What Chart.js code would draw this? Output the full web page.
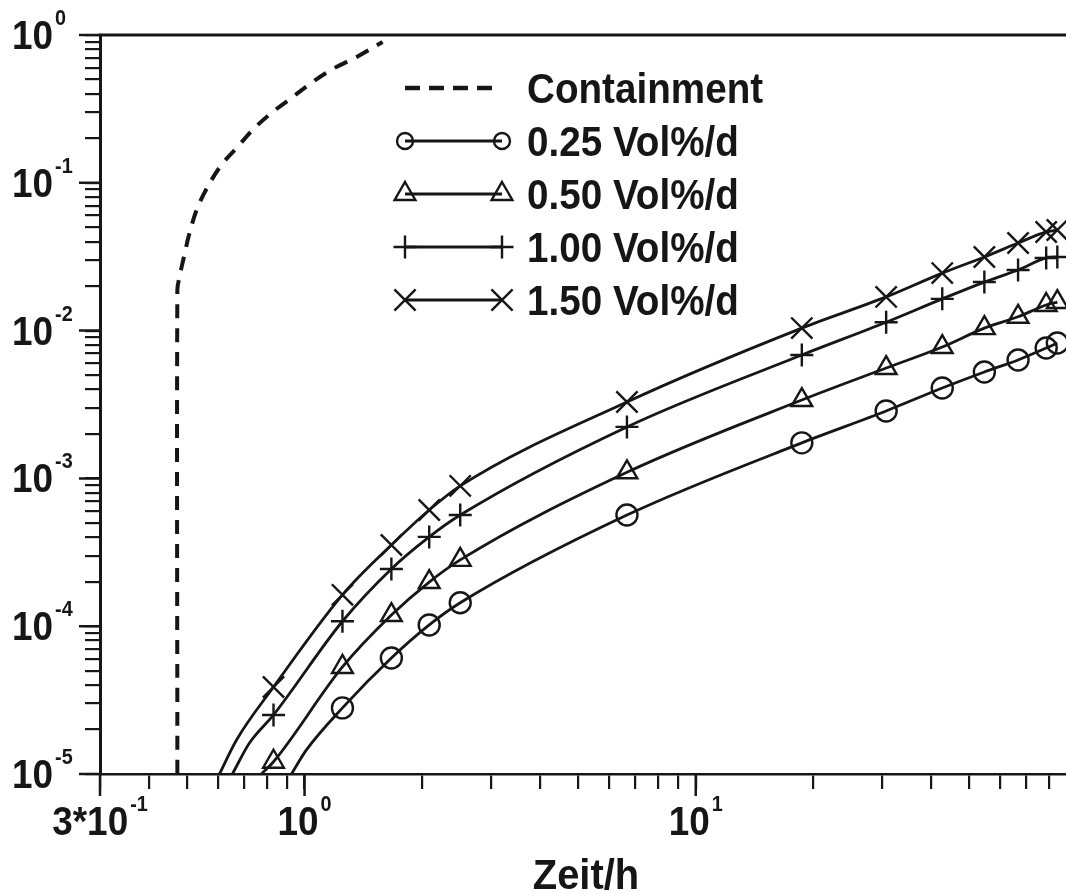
<!DOCTYPE html>
<html>
<head>
<meta charset="utf-8">
<script src="https://cdn.jsdelivr.net/npm/chart.js@4/dist/chart.umd.min.js"></script>
<style>
  html, body { margin: 0; padding: 0; background: #fff; overflow: hidden; }
  canvas { display: block; }
</style>
</head>
<body>
<canvas id="plot" width="1066" height="893"></canvas>
<script>
// time points (h) where the curves carry markers
const times = [0.833, 1.25, 1.667, 2.083, 2.5, 6.67, 18.67, 30.67, 42.67, 54.67, 66.67, 78.67, 84];

const vol025 = [null, 2.80e-5, 6.09e-5, 1.02e-4, 1.44e-4, 5.65e-4, 1.74e-3, 2.86e-3, 4.09e-3, 5.25e-3, 6.33e-3, 7.62e-3, 8.24e-3];
const vol050 = [1.21e-5, 5.30e-5, 1.19e-4, 1.99e-4, 2.81e-4, 1.10e-3, 3.39e-3, 5.58e-3, 7.74e-3, 1.04e-2, 1.24e-2, 1.49e-2, 1.56e-2];
const vol100 = [2.51e-5, 1.08e-4, 2.44e-4, 4.02e-4, 5.65e-4, 2.23e-3, 6.84e-3, 1.14e-2, 1.64e-2, 2.13e-2, 2.57e-2, 3.10e-2, 3.15e-2];
const vol150 = [3.88e-5, 1.63e-4, 3.54e-4, 6.11e-4, 8.90e-4, 3.29e-3, 1.04e-2, 1.69e-2, 2.45e-2, 3.15e-2, 3.91e-2, 4.65e-2, 4.79e-2];

// unmarked start of each curve, where it leaves the bottom axis
const lead025 = { t: [0.926, 1.01], v: [1e-5, 1.45e-5] };
const lead050 = { t: [0.776], v: [1e-5] };
const lead100 = { t: [0.654, 0.723], v: [1e-5, 1.62e-5] };
const lead150 = { t: [0.606, 0.670], v: [1e-5, 1.70e-5] };

// containment curve
const contTimes = [0.473, 0.473, 0.479, 0.493, 0.508, 0.532, 0.565, 0.613, 0.674, 0.745, 0.828, 0.926, 1.048, 1.193, 1.359, 1.583];
const contVals = [1e-5, 1.88e-2, 2.31e-2, 3.25e-2, 4.57e-2, 6.75e-2, 9.37e-2, 0.132, 0.175, 0.235, 0.301, 0.375, 0.481, 0.598, 0.710, 0.897];

const seriesLabels = ['Containment', '0.25 Vol%/d', '0.50 Vol%/d', '1.00 Vol%/d', '1.50 Vol%/d'];

// axis labels
const xLabelValues = [0.3, 1, 10];
const xLabelBases = ['3*10', '10', '10'];
const xLabelExps = ['-1', '0', '1'];
const yLabelValues = [1, 1e-1, 1e-2, 1e-3, 1e-4, 1e-5];
const yLabelExps = ['0', '-1', '-2', '-3', '-4', '-5'];
const xTitle = 'Zeit/h';

const ink = '#161616';
const FONT = '"Liberation Sans", Arial, sans-serif';

// tick marks: 2..9 inside every decade
const mantissas = [1, 2, 3, 4, 5, 6, 7, 8, 9];
const xTickValues = [];
[-1, 0, 1].forEach(e => mantissas.forEach(m => {
  const v = +(m * Math.pow(10, e)).toPrecision(3);
  if (v >= 0.3 && v <= 88) xTickValues.push(v);
}));
const yTickValues = [];
[-5, -4, -3, -2, -1].forEach(e => mantissas.forEach(m => yTickValues.push(+(m * Math.pow(10, e)).toPrecision(3))));
yTickValues.push(1);

function build(lead, vals) {
  const pts = lead.t.map((t, i) => ({ x: t, y: lead.v[i] }));
  times.forEach((t, i) => { if (vals[i] != null) pts.push({ x: t, y: vals[i] }); });
  return pts;
}

const markers = [
  { pointStyle: 'circle', radius: 10.5 },
  { pointStyle: 'triangle', radius: 12 },
  { pointStyle: 'cross', radius: 11.5 },
  { pointStyle: 'crossRot', radius: 15 }
];

const curves = [[lead025, vol025], [lead050, vol050], [lead100, vol100], [lead150, vol150]];

const datasets = [{
  label: seriesLabels[0],
  data: contTimes.map((t, i) => ({ x: t, y: contVals[i] })),
  borderColor: ink,
  borderWidth: 4,
  borderDash: [14, 10],
  pointRadius: 0,
  tension: 0.35
}];
curves.forEach(([lead, vals], k) => {
  const m = markers[k];
  datasets.push({
    label: seriesLabels[k + 1],
    data: build(lead, vals),
    lead: lead.t.length,
    borderColor: ink,
    borderWidth: 2.8,
    cubicInterpolationMode: 'monotone',
    pointStyle: m.pointStyle,
    pointRadius: c => c.dataIndex < c.dataset.lead ? 0 : m.radius,
    pointBorderWidth: 2.4,
    pointBorderColor: ink,
    pointBackgroundColor: 'rgba(0,0,0,0)'
  });
});

function text(ctx, str, x, y, size, sx, align) {
  ctx.save();
  ctx.font = 'bold ' + size + 'px ' + FONT;
  const w = ctx.measureText(str).width * sx;
  const x0 = align === 'center' ? x - w / 2 : x;
  ctx.translate(x0, y);
  ctx.scale(sx, 1);
  ctx.textAlign = 'left';
  ctx.textBaseline = 'alphabetic';
  ctx.fillText(str, 0, 0);
  ctx.restore();
  return w;
}

function width(ctx, str, size, sx) {
  ctx.save();
  ctx.font = 'bold ' + size + 'px ' + FONT;
  const w = ctx.measureText(str).width * sx;
  ctx.restore();
  return w;
}

// "10" with a raised exponent
function power(ctx, base, exp, x, y, align) {
  const wb = width(ctx, base, 41, 0.9);
  const we = width(ctx, exp, 22, 0.9);
  const x0 = align === 'center' ? x - (wb + 2 + we) / 2 : x;
  text(ctx, base, x0, y, 41, 0.9, 'left');
  text(ctx, exp, x0 + wb + 2, y - 24, 22, 0.9, 'left');
}

function drawMarker(ctx, style, radius, x, y) {
  ctx.save();
  ctx.strokeStyle = ink;
  ctx.fillStyle = 'rgba(0,0,0,0)';
  ctx.lineWidth = 2.4;
  Chart.helpers.drawPoint(ctx, { pointStyle: style, radius: radius, rotation: 0, borderWidth: 2.4 }, x, y);
  ctx.restore();
}

const decor = {
  id: 'decor',
  afterDraw(chart) {
    const { ctx, chartArea: a, scales: { x, y } } = chart;
    ctx.save();
    ctx.strokeStyle = ink;
    ctx.fillStyle = ink;
    ctx.lineCap = 'butt';

    // top frame line
    ctx.lineWidth = 3;
    ctx.beginPath();
    ctx.moveTo(a.left - 1, a.top);
    ctx.lineTo(a.right, a.top);
    ctx.stroke();

    // longer marks at the labelled values
    ctx.lineWidth = 2.5;
    ctx.beginPath();
    yLabelValues.forEach(v => {
      const py = y.getPixelForValue(v);
      ctx.moveTo(a.left - 21, py);
      ctx.lineTo(a.left, py);
    });
    xLabelValues.forEach(v => {
      const px = x.getPixelForValue(v);
      ctx.moveTo(px, a.bottom);
      ctx.lineTo(px, a.bottom + 22);
    });
    ctx.stroke();

    // tick labels
    yLabelValues.forEach((v, i) => power(ctx, '10', yLabelExps[i], 12, y.getPixelForValue(v) + 14, 'left'));
    xLabelValues.forEach((v, i) => power(ctx, xLabelBases[i], xLabelExps[i], x.getPixelForValue(v), a.bottom + 61, 'center'));

    // axis title
    text(ctx, xTitle, (a.left + a.right) / 2 + 3, 889, 42, 0.95, 'center');

    // legend
    const lx0 = 405, lx1 = 502, tx = 527;
    chart.data.datasets.forEach((ds, i) => {
      const ry = 88 + i * 53;
      ctx.save();
      ctx.strokeStyle = ink;
      if (i === 0) {
        ctx.lineWidth = 4.5;
        ctx.setLineDash([15, 9]);
        ctx.beginPath();
        ctx.moveTo(lx0, ry);
        ctx.lineTo(lx0 + 87, ry);
        ctx.stroke();
      } else {
        const m = markers[i - 1];
        ctx.lineWidth = 2.8;
        ctx.beginPath();
        ctx.moveTo(lx0, ry);
        ctx.lineTo(lx1, ry);
        ctx.stroke();
        const r = m.pointStyle === 'circle' ? 8 : m.radius;
        drawMarker(ctx, m.pointStyle, r, lx0, ry);
        drawMarker(ctx, m.pointStyle, r, lx1, ry);
      }
      ctx.restore();
      text(ctx, ds.label, tx, ry + 15, 42, 0.92, 'left');
    });
    ctx.restore();
  }
};

new Chart(document.getElementById('plot'), {
  type: 'line',
  data: { datasets },
  options: {
    responsive: false,
    animation: false,
    devicePixelRatio: 1,
    layout: { autoPadding: false, padding: { top: 35, right: 0, left: 0, bottom: 0 } },
    plugins: { legend: { display: false }, tooltip: { enabled: false } },
    scales: {
      x: {
        type: 'logarithmic',
        min: 0.3,
        max: 88.4,
        afterBuildTicks: s => { s.ticks = xTickValues.map(v => ({ value: v })); },
        afterFit: s => { s.height = 119; },
        ticks: { display: false, autoSkip: false },
        grid: { drawOnChartArea: false, drawTicks: true, tickLength: 15, color: ink, lineWidth: 2.2 },
        border: { display: true, color: ink, width: 2.5 }
      },
      y: {
        type: 'logarithmic',
        min: 1e-5,
        max: 1,
        afterBuildTicks: s => { s.ticks = yTickValues.map(v => ({ value: v })); },
        afterFit: s => { s.width = 100; },
        ticks: { display: false, autoSkip: false },
        grid: { drawOnChartArea: false, drawTicks: true, tickLength: 15, color: ink, lineWidth: 2.2 },
        border: { display: true, color: ink, width: 3 }
      }
    }
  },
  plugins: [decor]
});
</script>
</body>
</html>
